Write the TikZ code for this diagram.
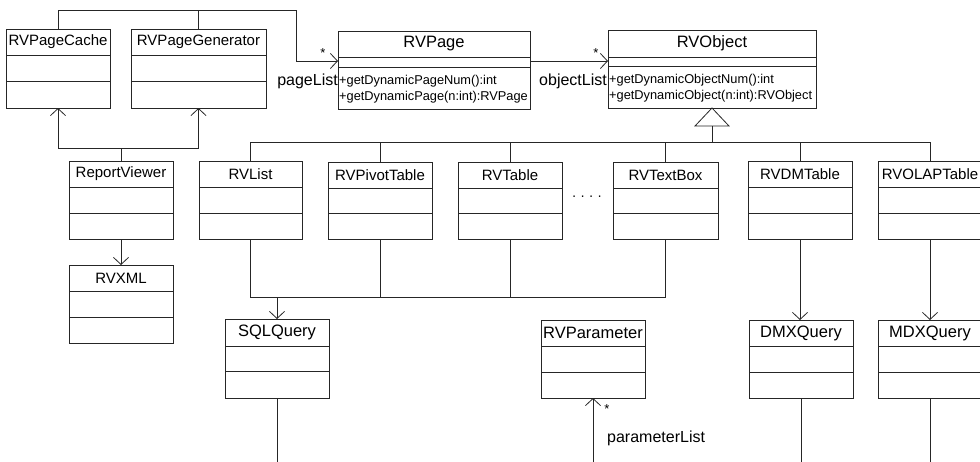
\documentclass[tikz,border=0pt]{standalone}
\usepackage{fontspec}
\setmainfont{Liberation Sans}
\usetikzlibrary{arrows.meta,calc}
\tikzset{
  line/.style={draw=black!85, line width=0.8pt},
  box/.style={line, inner sep=0pt, outer sep=0pt, anchor=north west},
  ttl/.style={font=\fontsize{15}{15}\selectfont, inner sep=0pt},
  big/.style={font=\fontsize{16.5}{16}\selectfont},
  meth/.style={font=\fontsize{12.8}{12}\selectfont, inner sep=0pt, anchor=west},
  lbl/.style={font=\fontsize{16}{16}\selectfont, inner sep=0pt},
  mult/.style={font=\fontsize{13}{13}\selectfont, inner sep=0pt},
  assoc/.style={line, -{Straight Barb[length=7pt,width=15pt]}},
}
% #1 title style, #2 name, #3 x1, #4 y1, #5 x2, #6 y2, #7 sep1, #8 sep2, #9 title
\newcommand{\umlclass}[9][]{%
  \node[box, minimum width={(#5-#3)*1pt}, minimum height={(#6-#4)*1pt}] (#2) at (#3,-#4) {};
  \draw[line] (#3,-#7) -- (#5,-#7);
  \draw[line] (#3,-#8) -- (#5,-#8);
  \node[ttl,#1] (#2-t) at ({(#3+#5)/2},{-(#4+#7)/2}) {#9};
}
\begin{document}
\begin{tikzpicture}[x=1pt,y=1pt]
\fill[white] (0,0) rectangle (980,-461);
\path[use as bounding box, clip] (0,0) rectangle (980,-461);

\umlclass{cache}{6}{29}{110}{108}{55}{81}{RVPageCache}
\umlclass{gen}{131}{29}{266}{108}{55}{81}{RVPageGenerator}
\umlclass[big]{page}{338}{31}{530}{109}{57}{67}{RVPage}
\umlclass[big]{obj}{608}{30}{816}{108}{57}{66}{RVObject}
\umlclass{rv}{69}{161}{173}{239}{187}{213}{ReportViewer}
\umlclass{xml}{69}{265}{173}{343}{291}{317}{RVXML}
\umlclass{list}{199}{161}{302}{239}{187}{213}{RVList}
\umlclass{pivot}{328}{162}{432}{239}{188}{213}{RVPivotTable}
\umlclass{table}{458}{162}{562}{239}{188}{213}{RVTable}
\umlclass{textbox}{613}{162}{718}{239}{188}{213}{RVTextBox}
\umlclass{dm}{748}{161}{852}{239}{187}{213}{RVDMTable}
\umlclass{olap}{878}{161}{982}{239}{187}{213}{RVOLAPTable}
\umlclass[big]{sql}{225}{319}{329}{398}{346}{371}{SQLQuery}
\umlclass[big]{param}{541}{320}{645}{398}{346}{372}{RVParameter}
\umlclass[big]{dmx}{749}{320}{853}{398}{346}{372}{DMXQuery}
\umlclass[big]{mdx}{878}{320}{982}{398}{346}{372}{MDXQuery}

\node[meth] (pm1) at (339,-81) {+getDynamicPageNum():int};
\node[meth] (pm2) at (339,-97) {+getDynamicPage(n:int):RVPage};
\node[meth] (om1) at (609,-80) {+getDynamicObjectNum():int};
\node[meth] (om2) at (609,-96) {+getDynamicObject(n:int):RVObject};

% page list association
\coordinate (c1) at (296,-10);
\coordinate (pin) at (338,-61);
\draw[assoc] (cache.north) |- (c1) |- (pin);
\draw[line] (gen.north) -- (gen.north |- c1);
\node[mult] (s1) at (323,-53) {*};
\node[lbl, anchor=east] (pl) at (338,-81) {pageList};

% object list association
\draw[assoc] (page.east |- pin) -- (obj.west |- pin);
\node[mult] (s2) at (596,-53) {*};
\node[lbl, anchor=east] (ol) at (607,-81) {objectList};

% ReportViewer
\coordinate (rvj) at (121,-148);
\draw[assoc] (rv.north) -- (rvj) -| (cache.south);
\draw[assoc] (rvj) -| (gen.south);
\draw[assoc] (rv.south) -- (xml.north);

% generalization
\draw[line] (obj.south) -- ++(-17,-18) coordinate (tl) -- ++(34,0) -- cycle;
\coordinate (tb) at (712,-126);
\coordinate (gb) at (712,-142);
\draw[line] (tb) -- (gb);
\draw[line] (list.north) |- (olap.north |- gb) -- (olap.north);
\foreach \n in {pivot,table,textbox,dm} \draw[line] (\n.north) -- (\n.north |- gb);

\node[font=\fontsize{14}{14}\selectfont] (dots) at (587,-198) {· · · ·};

% SQL query bus
\coordinate (sb) at (277,-297);
\draw[line] (list.south) |- (textbox.south |- sb) -- (textbox.south);
\draw[line] (pivot.south) -- (pivot.south |- sb);
\draw[line] (table.south) -- (table.south |- sb);
\draw[assoc] (sql.north |- sb) -- (sql.north);

\coordinate (bot) at (0,-463);
\draw[line] (sql.south) -- (sql.south |- bot);
\draw[assoc] (dm.south) -- (dm.south |- dmx.north);
\draw[line] (dmx.south) -- (dmx.south |- bot);
\draw[assoc] (olap.south) -- (olap.south |- mdx.north);
\draw[line] (mdx.south) -- (mdx.south |- bot);
\draw[assoc] (param.south |- bot) -- (param.south);
\node[mult] (s3) at (607,-409) {*};
\node[lbl, anchor=west] (pml) at (607,-438) {parameterList};
\end{tikzpicture}
\end{document}
